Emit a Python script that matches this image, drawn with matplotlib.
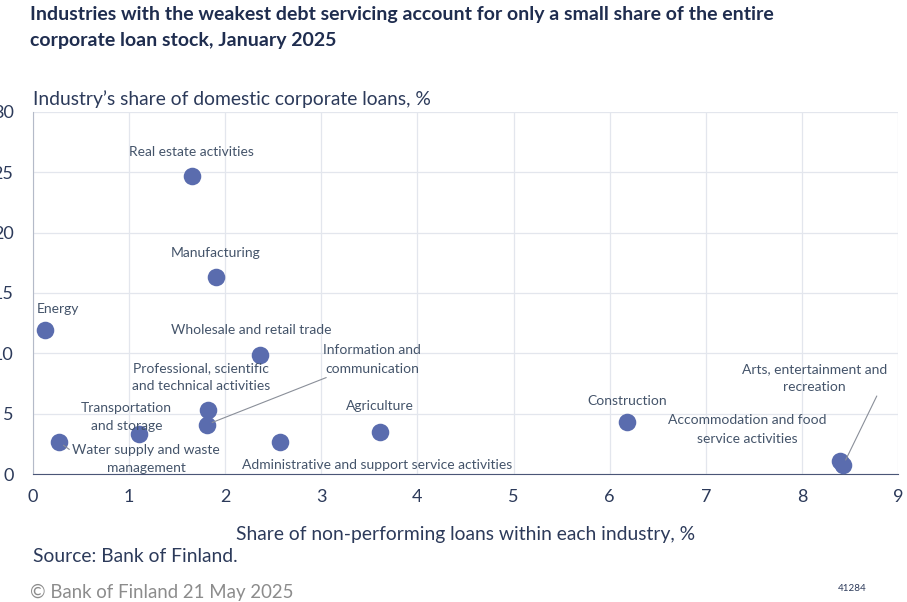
import matplotlib.pyplot as plt

plt.rcParams['font.family'] = ['Lato', 'DejaVu Sans']

# --- data ---
industries = [
    "Real estate activities",
    "Manufacturing",
    "Energy",
    "Wholesale and retail trade",
    "Professional, scientific\nand technical activities",
    "Information and\ncommunication",
    "Transportation\nand storage",
    "Water supply and waste\nmanagement",
    "Administrative and support service activities",
    "Agriculture",
    "Construction",
    "Accommodation and food\nservice activities",
    "Arts, entertainment and\nrecreation",
]
npl_share = [1.65, 1.90, 0.12, 2.36, 1.82, 1.81, 1.10, 0.27, 2.57, 3.61, 6.18, 8.40, 8.43]
loan_share = [24.7, 16.3, 11.9, 9.9, 5.3, 4.1, 3.3, 2.65, 2.65, 3.5, 4.3, 1.1, 0.75]

# label offsets in pixels (dx, dy) and whether a leader line is drawn
offsets = [(0, 24), (0, 24), (13, 21), (-9, 25), (-7, 33), (165, 65), (-12, 17),
           (87, -17), (97, -23), (0, 26), (0, 21), (-93, 31), (-29, 87)]
leaders = {5: (0.5, 0.5), 7: (0.0, 0.75), 12: (0.94, 0.0)}

navy = "#1f2d4f"
label_col = "#44546a"
dot_col = "#5a6cae"

fig = plt.figure(figsize=(9.07, 6.02), dpi=100)
ax = fig.add_axes([0.0364, 0.2126, 0.9537, 0.6014])

ax.scatter(npl_share, loan_share, s=160, color=dot_col, zorder=3, linewidths=0)

for i, name in enumerate(industries):
    props = None
    if i in leaders:
        props = dict(arrowstyle='-', color="#8a8f99", lw=0.8, shrinkA=0, shrinkB=4,
                     relpos=leaders[i])
    ax.annotate(name, (npl_share[i], loan_share[i]), xytext=offsets[i],
                textcoords='offset pixels', ha='center', va='center',
                fontsize=10, color=label_col, linespacing=1.65,
                arrowprops=props, zorder=4)

ax.set_xlim(0, 9)
ax.set_ylim(0, 30)
ax.set_xticks(range(0, 10))
ax.set_yticks(range(0, 31, 5))
ax.grid(True, color="#e3e6ed", lw=0.9)
ax.set_axisbelow(True)
for s in ['top', 'right']:
    ax.spines[s].set_visible(False)
ax.spines['left'].set_color("#b4bac8")
ax.spines['bottom'].set_color("#4a5677")
ax.tick_params(axis='both', length=0, labelsize=13, labelcolor="#2c3a5a")
ax.tick_params(axis='x', pad=11)
ax.tick_params(axis='y', pad=14)

ax.set_xlabel("Share of non-performing loans within each industry, %",
              fontsize=13.9, color="#2c3a5a", labelpad=15)

fig.text(0.033, 0.99,
         "Industries with the weakest debt servicing account for only a small share of the entire\n"
         "corporate loan stock, January 2025",
         fontsize=14, fontweight='bold', color=navy, va='top', linespacing=1.65)
fig.text(0.036, 0.836, "Industry\u2019s share of domestic corporate loans, %",
         fontsize=13.9, color="#2c3a5a", va='center')
fig.text(0.036, 0.076, "Source: Bank of Finland.", fontsize=13.9, color="#2c3a5a", va='center')
fig.text(0.033, 0.016, "\u00a9 Bank of Finland 21 May 2025", fontsize=13.4, color="#8c8c8c",
         va='center')
fig.text(0.924, 0.023, "41284", fontsize=7, color="#2c3a5a", va='center')

fig.savefig("out.png", dpi=100)
